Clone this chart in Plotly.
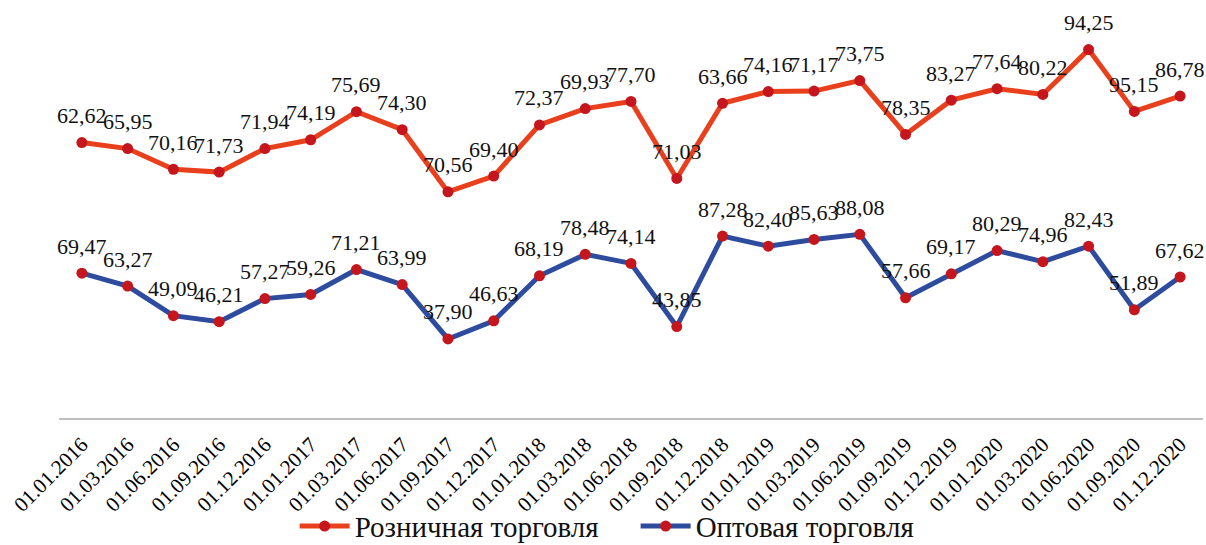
import plotly.graph_objects as go

dates = ["01.01.2016", "01.03.2016", "01.06.2016", "01.09.2016", "01.12.2016",
         "01.01.2017", "01.03.2017", "01.06.2017", "01.09.2017", "01.12.2017",
         "01.01.2018", "01.03.2018", "01.06.2018", "01.09.2018", "01.12.2018",
         "01.01.2019", "01.03.2019", "01.06.2019", "01.09.2019", "01.12.2019",
         "01.01.2020", "01.03.2020", "01.06.2020", "01.09.2020", "01.12.2020"]

retail = [62.62, 65.95, 70.16, 71.73, 71.94, 74.19, 75.69, 74.30, 70.56, 69.40,
          72.37, 69.93, 77.70, 71.03, 63.66, 74.16, 71.17, 73.75, 78.35, 83.27,
          77.64, 80.22, 94.25, 95.15, 86.78]

wholesale = [69.47, 63.27, 49.09, 46.21, 57.27, 59.26, 71.21, 63.99, 37.90, 46.63,
             68.19, 78.48, 74.14, 43.85, 87.28, 82.40, 85.63, 88.08, 57.66, 69.17,
             80.29, 74.96, 82.43, 51.89, 67.62]

retail_name = "Розничная торговля"
wholesale_name = "Оптовая торговля"

SERIF = "Times New Roman, Liberation Serif, serif"

def fmt(v):
    return f"{v:.2f}".replace(".", ",")

fig = go.Figure()
fig.add_trace(go.Scatter(
    x=dates, y=wholesale, name=wholesale_name, stackgroup="s", fill="none",
    mode="lines+markers",
    line=dict(color="#2E4C9E", width=5), marker=dict(color="#C4161C", size=11),
    legendrank=2, hoverinfo="skip", cliponaxis=False,
))
fig.add_trace(go.Scatter(
    x=dates, y=retail, name=retail_name, stackgroup="s", fill="none",
    mode="lines+markers",
    line=dict(color="#E8401C", width=5), marker=dict(color="#C4161C", size=11),
    legendrank=1, hoverinfo="skip", cliponaxis=False,
))

# data labels above each point (stacked line chart: retail sits on top of wholesale)
annotations = []
for d, w, r in zip(dates, wholesale, retail):
    for yv, label in ((w, w), (w + r, r)):
        annotations.append(dict(
            x=d, y=yv, xref="x", yref="y", text=fmt(label), showarrow=False,
            yshift=27, font=dict(family=SERIF, size=22, color="#111111"),
        ))

fig.update_layout(
    width=1206, height=545,
    margin=dict(l=59, r=3, t=1, b=127, autoexpand=False),
    paper_bgcolor="white", plot_bgcolor="white",
    font=dict(family=SERIF, color="#111111"),
    showlegend=True,
    annotations=annotations,
    legend=dict(orientation="h", x=0.2443, xref="container", xanchor="left",
                y=0.0345, yref="container", yanchor="middle",
                bgcolor="rgba(0,0,0,0)",
                font=dict(family=SERIF, size=29), traceorder="normal",
                itemwidth=50, entrywidth=276, entrywidthmode="pixels"),
    xaxis=dict(type="category", range=[-0.5, 24.5], showgrid=False,
               showline=True, linecolor="#BFBFBF", linewidth=2, ticks="",
               tickangle=-45, tickfont=dict(family=SERIF, size=21, color="#000000"),
               ticklabelstandoff=4, automargin=False, fixedrange=True),
    yaxis=dict(range=[0, 200], visible=False, showgrid=False, zeroline=False,
               automargin=False),
)

fig.write_html("out.html", config={"displayModeBar": False},
               post_script="document.body.style.margin='0';document.body.style.overflow='hidden';")
